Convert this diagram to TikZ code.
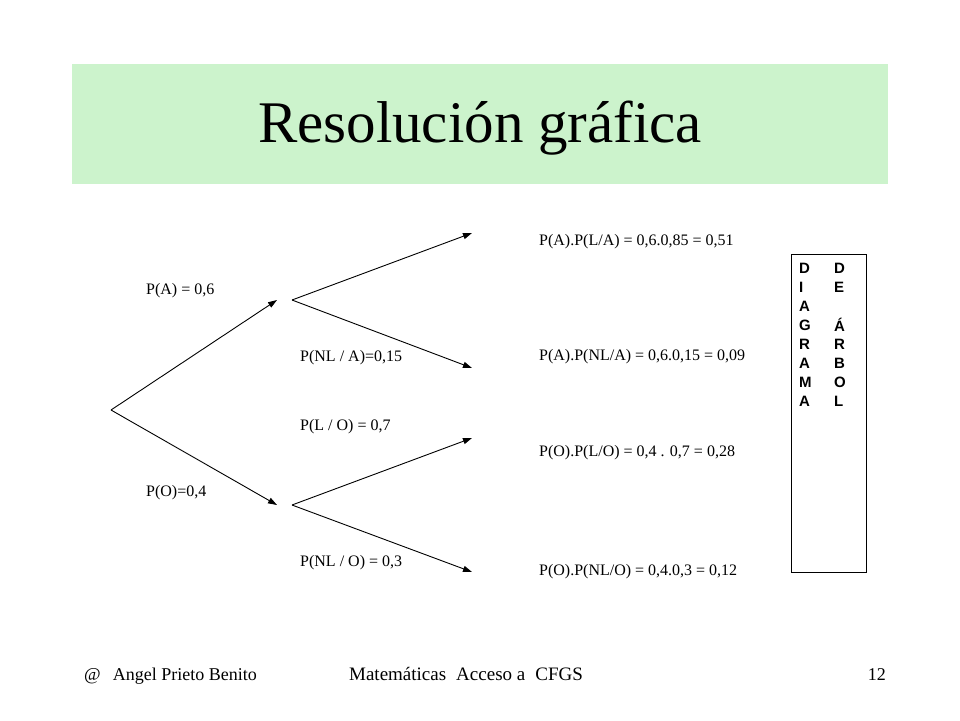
\documentclass[tikz,border=0pt]{standalone}
\usepackage{fontspec}
\setmainfont{Liberation Serif}
\newfontfamily\arialb{Liberation Sans}[BoldFont={Liberation Sans Bold}]
\usetikzlibrary{arrows.meta}
\begin{document}
\begin{tikzpicture}[x=1pt,y=-1pt,
 lbl/.style={anchor=west,inner sep=0pt,font=\fontsize{16}{16}\selectfont},
 arr/.style={-{Triangle[length=9pt,width=6pt]},line width=0.9pt},
 letter/.style={inner sep=0pt,font=\arialb\bfseries\fontsize{15}{15}\selectfont},
 foot/.style={inner sep=0pt,font=\fontsize{18}{18}\selectfont}]
\useasboundingbox (0,0) rectangle (960,720);
\fill[fill={rgb,255:red,204;green,243;blue,204}] (72,64) rectangle (888,184);
\node (title) at (480,128) {\fontsize{59}{59}\selectfont Resolución gráfica};
\coordinate (r) at (111,410);
\coordinate (a) at (277,300);
\coordinate (o) at (277,505);
\coordinate (a2) at (292,300);
\coordinate (o2) at (292,505);
\coordinate (al) at (472,233);
\coordinate (anl) at (472,368);
\coordinate (ol) at (472,438);
\coordinate (onl) at (472,572);
\draw[arr] (r) -- (a);
\draw[arr] (r) -- (o);
\draw[arr] (a2) -- (al);
\draw[arr] (a2) -- (anl);
\draw[arr] (o2) -- (ol);
\draw[arr] (o2) -- (onl);
\node[lbl] (pa) at (146,291) {P(A) = 0,6};
\node[lbl] (po) at (146,493) {P(O)=0,4};
\node[lbl] (pnla) at (300,358) {P(NL / A)=0,15};
\node[lbl] (plo) at (300,427) {P(L / O) = 0,7};
\node[lbl] (pnlo) at (300,563) {P(NL / O) = 0,3};
\node[lbl] (r1) at (539,242) {P(A).P(L/A) = 0,6.0,85 = 0,51};
\node[lbl] (r2) at (539,357) {P(A).P(NL/A) = 0,6.0,15 = 0,09};
\node[lbl] (r3) at (539,453) {P(O).P(L/O) = 0,4 . 0,7 = 0,28};
\node[lbl] (r4) at (539,572) {P(O).P(NL/O) = 0,4.0,3 = 0,12};
\draw[line width=0.8pt] (791,254) rectangle (866,572);
\foreach \a/\b [count=\i from 0] in {D/D,I/E,A/{},G/Á,R/R,A/B,M/O,A/L}{
 \node[letter,anchor=west] (la\i) at (799,268+19*\i) {\a};
 \node[letter,anchor=west] (lb\i) at (834,268+19*\i) {\b};
}
\node[foot,anchor=base west] (f1) at (84,680) {@\hspace{12pt}Angel Prieto Benito};
\node[foot,anchor=base] (f2) at (466,680) {\fontsize{19}{19}\selectfont Matemáticas\hspace{10pt}Acceso a\hspace{10pt}CFGS};
\node[foot,anchor=base east] (f3) at (886,680) {12};
\end{tikzpicture}
\end{document}
